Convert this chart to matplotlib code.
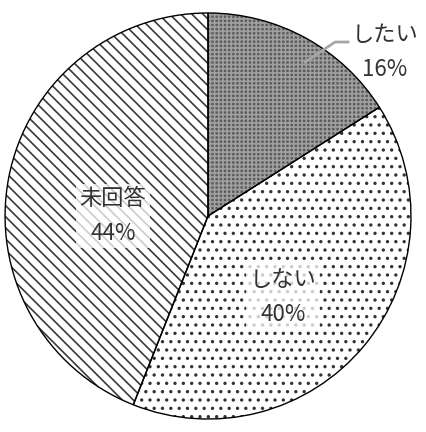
import matplotlib
matplotlib.use("Agg")
import matplotlib.pyplot as plt

plt.rcParams['font.family'] = ['Noto Sans CJK JP', 'DejaVu Sans']
plt.rcParams['hatch.linewidth'] = 1.2

labels = ['したい', 'しない', '未回答']
values = [16, 40, 44]
hatches = ['++++', '..', '\\\\\\']
fills = ['#5c5c5c', 'white', 'white']
hatch_colors = ['#a0a0a0', '#333333', '#3a3a3a']

fig = plt.figure(figsize=(4.27, 4.32), dpi=100)
ax = fig.add_axes([0, 0, 1, 1])

# hatched fills (edge width 0 so only the hatch uses the edge colour)
fill_wedges, _ = ax.pie(values, startangle=90, counterclock=False, radius=1.0,
                        colors=fills, wedgeprops=dict(linewidth=0))
for w, h, hc in zip(fill_wedges, hatches, hatch_colors):
    w.set_hatch(h)
    w.set_edgecolor(hc)

# black outlines on top
ax.pie(values, startangle=90, counterclock=False, radius=1.0,
       wedgeprops=dict(facecolor='none', edgecolor='black', linewidth=1.0))

ax.set_xlim(-1.025, 1.079)
ax.set_ylim(-1.064, 1.064)
ax.set_aspect('auto')
ax.axis('off')

box = dict(boxstyle='square,pad=0.15', facecolor='white', edgecolor='none', alpha=0.75)

# したい (outside, with leader line)
ax.plot([0.478, 0.626, 0.690], [0.758, 0.857, 0.857], color='#a6a6a6', lw=2)
ax.text(0.872, 0.808, f'{labels[0]}\n{values[0]}%', ha='center', va='center',
        fontsize=16, linespacing=1.65, color='#333333')

# inside labels
ax.text(0.369, -0.40, f'{labels[1]}\n{values[1]}%', ha='center', va='center',
        fontsize=16, linespacing=1.65, color='#333333', bbox=box)
ax.text(-0.468, 0.0, f'{labels[2]}\n{values[2]}%', ha='center', va='center',
        fontsize=16, linespacing=1.65, color='#333333', bbox=box)

fig.savefig('out.png', dpi=100)
